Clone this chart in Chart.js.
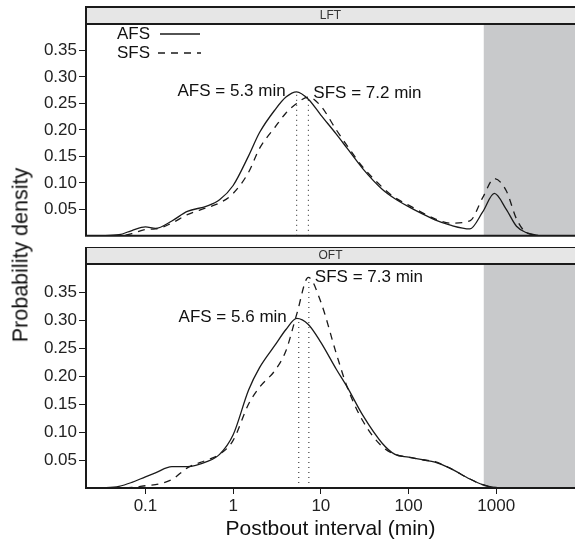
<!DOCTYPE html>
<html>
<head>
<meta charset="utf-8">
<script src="https://cdn.jsdelivr.net/npm/chart.js@4.4.0/dist/chart.umd.min.js"></script>
<style>
  body { margin: 0; background: #fff; width: 575px; height: 542px; position: relative; overflow: hidden;
         font-family: "Liberation Sans", Arial, sans-serif; }
  #topChart { position: absolute; left: 0; top: 0; }
  #botChart { position: absolute; left: 0; top: 247px; }
  #ytitle { position: absolute; left: 21px; top: 255px; transform: translate(-50%, -50%) rotate(-90deg);
            font-size: 21.5px; white-space: nowrap; color: #111; }
</style>
</head>
<body>
<canvas id="topChart" width="575" height="248"></canvas>
<canvas id="botChart" width="575" height="295"></canvas>
<div id="ytitle">Probability density</div>
<script>
// postbout interval grid (min)
const intervals = [0.03, 0.05, 0.07, 0.1, 0.13, 0.2, 0.3, 0.5, 0.7, 1, 1.5, 2, 3, 4, 5.3, 7.2, 10, 15, 20, 30,
                   50, 70, 100, 150, 200, 300, 500, 700, 950, 1300, 1700, 2200, 3000, 4000];

// LFT densities
const lftAFS = [0, 0.002, 0.01, 0.017, 0.014, 0.028, 0.046, 0.056, 0.068, 0.095, 0.151, 0.195, 0.238, 0.262, 0.272, 0.258, 0.228, 0.192, 0.165, 0.127,
                0.088, 0.07, 0.055, 0.04, 0.03, 0.02, 0.013, 0.045, 0.08, 0.05, 0.018, 0.006, 0.001, null];
const lftSFS = [0, 0, 0.004, 0.012, 0.013, 0.024, 0.04, 0.053, 0.062, 0.08, 0.12, 0.165, 0.205, 0.232, 0.25, 0.262, 0.245, 0.2, 0.17, 0.13,
                0.092, 0.072, 0.058, 0.042, 0.032, 0.024, 0.028, 0.072, 0.108, 0.085, 0.032, 0.006, 0.001, null];

// OFT densities
const oftAFS = [0, 0.003, 0.01, 0.02, 0.027, 0.038, 0.038, 0.047, 0.06, 0.095, 0.175, 0.215, 0.255, 0.283, 0.303, 0.292, 0.26, 0.212, 0.18, 0.13,
                0.08, 0.06, 0.055, 0.05, 0.046, 0.035, 0.016, 0.006, 0.001, 0, null, null, null, null];
const oftSFS = [0, 0, 0.001, 0.004, 0.006, 0.015, 0.036, 0.05, 0.06, 0.085, 0.15, 0.18, 0.21, 0.245, 0.31, 0.376, 0.332, 0.24, 0.18, 0.12,
                0.074, 0.06, 0.055, 0.05, 0.047, 0.035, 0.016, 0.006, 0.001, 0, null, null, null, null];

// modes (min) and heights of the dotted markers
const lftModes = [5.3, 7.2];
const lftModeTops = [0.27, 0.258];
const oftModes = [5.6, 7.3];
const oftModeTops = [0.303, 0.37];

const xTicks = [0.1, 1, 10, 100, 1000];
const yTicks = [0.05, 0.1, 0.15, 0.2, 0.25, 0.3, 0.35];
const shadeFrom = 720;

const FONT = '"Liberation Sans", Arial, sans-serif';
const INK = '#1a1a1a';

const panelDecor = {
  id: 'panelDecor',
  beforeDatasetsDraw(chart) {
    const { ctx, chartArea: a, scales: { x } } = chart;
    const sx = x.getPixelForValue(shadeFrom);
    ctx.save();
    ctx.fillStyle = '#c8c9cb';
    ctx.fillRect(sx, a.top, a.right - sx, a.bottom - a.top);
    ctx.restore();
  },
  afterDatasetsDraw(chart, args, opts) {
    const { ctx, chartArea: a, scales: { x, y } } = chart;
    ctx.save();
    // strip
    ctx.fillStyle = '#e6e6e6';
    ctx.fillRect(a.left, a.top - 17, a.right - a.left, 17);
    ctx.strokeStyle = INK;
    ctx.lineWidth = 2;
    ctx.beginPath();
    ctx.moveTo(a.right, a.top - 17); ctx.lineTo(a.left, a.top - 17);
    ctx.lineTo(a.left, a.bottom); ctx.lineTo(a.right, a.bottom);
    ctx.moveTo(a.left, a.top); ctx.lineTo(a.right, a.top);
    ctx.stroke();
    ctx.fillStyle = '#333';
    ctx.font = '12px ' + FONT;
    ctx.textAlign = 'center';
    ctx.textBaseline = 'middle';
    ctx.fillText(opts.strip, (a.left + a.right) / 2, a.top - 8);

    // mode labels
    ctx.fillStyle = '#111';
    ctx.font = '17px ' + FONT;
    opts.labels.forEach(l => {
      ctx.textAlign = l.align;
      ctx.fillText(l.text, x.getPixelForValue(l.x) + l.dx, y.getPixelForValue(l.y));
    });

    // legend
    if (opts.legend) {
      const lx = a.left + 31, ly = a.top + 10;
      ctx.textAlign = 'left';
      ctx.fillText('AFS', lx, ly);
      ctx.fillText('SFS', lx, ly + 19);
      ctx.lineWidth = 1.3;
      ctx.beginPath();
      ctx.moveTo(lx + 43, ly); ctx.lineTo(lx + 83, ly);
      ctx.stroke();
      ctx.setLineDash([7, 6]);
      ctx.beginPath();
      ctx.moveTo(lx + 41, ly + 19); ctx.lineTo(lx + 84, ly + 19);
      ctx.stroke();
    }
    ctx.restore();
  }
};

function makePanel(id, afs, sfs, modes, modeTops, strip, labels, showX, legend) {
  const pts = arr => intervals.map((v, i) => ({ x: v, y: arr[i] }));
  const curve = { pointRadius: 0, borderWidth: 1.3, borderColor: INK, fill: false, cubicInterpolationMode: 'monotone' };
  const datasets = [
    Object.assign({ label: 'AFS', data: pts(afs) }, curve),
    Object.assign({ label: 'SFS', data: pts(sfs), borderDash: [7, 6] }, curve)
  ];
  modes.forEach((m, i) => {
    datasets.push({ data: [{ x: m, y: 0 }, { x: m, y: modeTops[i] }], pointRadius: 0,
                    borderWidth: 1, borderColor: INK, borderDash: [1, 4] });
  });

  return new Chart(document.getElementById(id), {
    type: 'line',
    data: { datasets },
    plugins: [panelDecor],
    options: {
      responsive: false,
      animation: false,
      layout: { padding: { top: showX ? 17 : 24, right: 0, left: 0, bottom: 0 } },
      plugins: {
        legend: { display: false },
        tooltip: { enabled: false },
        panelDecor: { strip, labels, legend }
      },
      scales: {
        x: {
          type: 'logarithmic',
          min: 0.021, max: 7900,
          display: showX,
          afterBuildTicks: s => { s.ticks = xTicks.map(v => ({ value: v })); },
          afterFit: s => { if (showX) s.height = 54; },
          ticks: { color: '#222', font: { size: 17, family: FONT }, padding: 2, maxRotation: 0,
                   callback: v => String(v) },
          grid: { drawOnChartArea: false, drawTicks: true, tickLength: 6, color: INK },
          border: { display: false },
          title: { display: true, text: 'Postbout interval (min)', color: '#111',
                   font: { size: 21, family: FONT }, padding: { top: 0, bottom: 0 } }
        },
        y: {
          min: 0, max: 0.4,
          afterBuildTicks: s => { s.ticks = yTicks.map(v => ({ value: v })); },
          afterFit: s => { s.width = 86; },
          ticks: { color: '#222', font: { size: 17, family: FONT }, padding: 2,
                   callback: v => v.toFixed(2) },
          grid: { drawOnChartArea: false, drawTicks: true, tickLength: 7, color: INK },
          border: { display: false }
        }
      }
    }
  });
}

makePanel('topChart', lftAFS, lftSFS, lftModes, lftModeTops, 'LFT', [
  { text: 'AFS = 5.3 min', x: lftModes[0], y: 0.273, align: 'right', dx: -11 },
  { text: 'SFS = 7.2 min', x: lftModes[1], y: 0.27, align: 'left', dx: 5 }
], false, true);

makePanel('botChart', oftAFS, oftSFS, oftModes, oftModeTops, 'OFT', [
  { text: 'AFS = 5.6 min', x: oftModes[0], y: 0.305, align: 'right', dx: -12 },
  { text: 'SFS = 7.3 min', x: oftModes[1], y: 0.377, align: 'left', dx: 6 }
], true, false);
</script>
</body>
</html>
